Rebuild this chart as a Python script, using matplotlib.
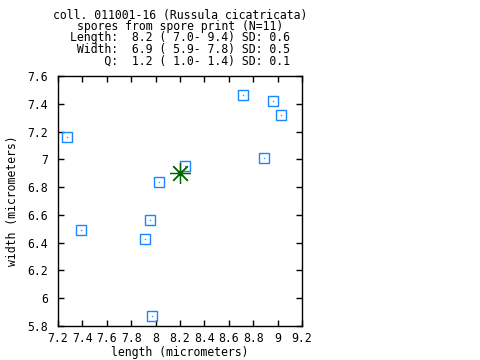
import matplotlib
matplotlib.use("Agg")
import matplotlib.pyplot as plt
from matplotlib.ticker import MultipleLocator, FuncFormatter

# data
length = [7.27, 7.39, 7.91, 7.95, 7.97, 8.03, 8.24, 8.72, 8.89, 8.96, 9.03]
width = [7.16, 6.49, 6.43, 6.56, 5.87, 6.84, 6.95, 7.46, 7.01, 7.42, 7.32]
mean_length = [8.2]
mean_width = [6.9]
title_lines = [
    "coll. 011001-16 (Russula cicatricata)",
    "spores from spore print (N=11)",
    "Length:  8.2 ( 7.0- 9.4) SD: 0.6",
    " Width:  6.9 ( 5.9- 7.8) SD: 0.5",
    "     Q:  1.2 ( 1.0- 1.4) SD: 0.1",
]
xlabel = "length (micrometers)"
ylabel = "width (micrometers)"

FONT = "DejaVu Sans Mono"
FS = 8.3
BLUE = "#1a86ff"
GREEN = "#006400"

fig = plt.figure(figsize=(4.8, 3.6), dpi=100)
ax = fig.add_axes([58 / 480, 1 - 326 / 360, (302 - 58) / 480, (326 - 76) / 360])

ax.plot(length, width, linestyle="none", marker="s", markersize=7.4,
        markerfacecolor="none", markeredgecolor=BLUE, markeredgewidth=1.0)
ax.plot(length, width, linestyle="none", marker="o", markersize=1.0,
        color=BLUE, markeredgewidth=0)
ax.plot(mean_length, mean_width, linestyle="none", marker=(8, 2, 0),
        markersize=15, color=GREEN, markeredgewidth=0.9)
ax.plot(mean_length, mean_width, linestyle="none", marker="o",
        markersize=4, color=GREEN, markeredgewidth=0)

ax.set_xlim(7.2, 9.2)
ax.set_ylim(5.8, 7.6)
ax.xaxis.set_major_locator(MultipleLocator(0.2))
ax.yaxis.set_major_locator(MultipleLocator(0.2))
fmt = FuncFormatter(lambda v, p: f"{round(v, 1):g}")
ax.xaxis.set_major_formatter(fmt)
ax.yaxis.set_major_formatter(fmt)
ax.tick_params(direction="in", length=4, width=1, top=True, right=True,
               labelsize=FS, color="black")
ax.tick_params(axis="x", pad=4)
ax.tick_params(axis="y", pad=7)
for lab in ax.get_xticklabels() + ax.get_yticklabels():
    lab.set_fontfamily(FONT)
for s in ax.spines.values():
    s.set_linewidth(1.0)

ax.set_xlabel(xlabel, fontfamily=FONT, fontsize=FS, labelpad=1)
ax.set_ylabel(ylabel, fontfamily=FONT, fontsize=FS, labelpad=6)

fig.text(180 / 480, 1 - 38.0 / 360, "\n".join(title_lines), ha="center",
         va="center", multialignment="center", linespacing=0.85,
         fontfamily=FONT, fontsize=FS)

fig.savefig("out.png", dpi=100)
